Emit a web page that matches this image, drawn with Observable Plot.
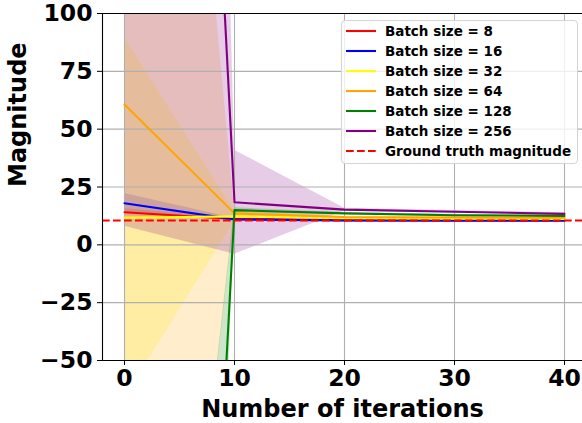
<!DOCTYPE html>
<html><head><meta charset="utf-8">
<script src="https://cdn.jsdelivr.net/npm/d3@7"></script>
<script src="https://cdn.jsdelivr.net/npm/@observablehq/plot@0.6"></script>
<style>
body{margin:0;background:#fff;}
#wrap{position:relative;width:582px;height:423px;overflow:hidden;}
#legend{position:absolute;left:341px;top:20px;width:237px;height:144px;box-sizing:border-box;background:rgba(255,255,255,0.8);border:1px solid #d4d4d4;border-radius:4px;font:bold 13.5px "DejaVu Sans",sans-serif;color:#000;}
.row{position:absolute;left:0;height:20px;width:100%;}
.row svg{position:absolute;left:3px;top:0;}
.row span{position:absolute;left:43px;top:0;line-height:20px;white-space:nowrap;}
</style></head><body><div id="wrap"></div>
<script>
// ---- data ----
const iterations = [0, 10, 20, 30, 40];
const seriesLabels = ["Batch size = 8", "Batch size = 16", "Batch size = 32", "Batch size = 64", "Batch size = 128", "Batch size = 256"];
const seriesColors = ["red", "blue", "yellow", "orange", "green", "purple"];
const mean8   = [14.1, 11.2, 10.7, 10.6, 10.6];
const std8    = [1.5, 0.4, 0.2, 0.2, 0.2];
const mean16  = [18.0, 11.0, 10.5, 10.4, 10.4];
const std16   = [4.2, 0.5, 0.2, 0.2, 0.2];
const mean32  = [11.7, 12.3, 11.5, 11.3, 11.2];
const std32   = [78, 2.3, 0.3, 0.3, 0.3];
const mean64  = [60.7, 13.6, 12.0, 11.8, 11.7];
const std64   = [470, 1.5, 0.3, 0.3, 0.3];
const mean128 = [-875, 15.0, 13.6, 12.8, 12.5];
const std128  = [465, 1.0, 0.4, 0.4, 0.4];
const mean256 = [940, 18.4, 15.2, 14.3, 13.4];
const std256  = [932, 22.5, 0.6, 0.5, 0.5];
const groundTruth = 10.5;
const groundTruthLabel = "Ground truth magnitude";
const xTicks = [0, 10, 20, 30, 40];
const yTicks = [-50, -25, 0, 25, 50, 75, 100];
const xDomain = [-2, 41.636];
const yDomain = [-50, 100];
const xLabel = "Number of iterations";
const yLabel = "Magnitude";

const means = [mean8, mean16, mean32, mean64, mean128, mean256];
const stds = [std8, std16, std32, std64, std128, std256];
const rows = [];
seriesLabels.forEach((s, i) => {
  iterations.forEach((x, j) => {
    rows.push({series: s, x, mean: means[i][j], lo: means[i][j] - stds[i][j], hi: means[i][j] + stds[i][j]});
  });
});

const font = "DejaVu Sans";
const chart = Plot.plot({
  width: 582, height: 423,
  marginLeft: 102, marginRight: 0, marginTop: 13, marginBottom: 63,
  style: {fontFamily: font, fontWeight: "bold", fontSize: "23.5px", background: "white", color: "black"},
  x: {domain: xDomain},
  y: {domain: yDomain},
  color: {domain: seriesLabels, range: seriesColors},
  marks: [
    Plot.areaY(rows, {x: "x", y1: "lo", y2: "hi", fill: "series", z: "series", fillOpacity: 0.2, clip: true}),
    Plot.gridX(xTicks, {stroke: "#b0b0b0", strokeOpacity: 1, strokeWidth: 1.1}),
    Plot.gridY(yTicks, {stroke: "#b0b0b0", strokeOpacity: 1, strokeWidth: 1.1}),
    Plot.line(rows, {x: "x", y: "mean", stroke: "series", z: "series", strokeWidth: 2.1, clip: true}),
    Plot.ruleY([groundTruth], {stroke: "red", strokeWidth: 2.1, strokeDasharray: "7.7,3.3"}),
    Plot.ruleX([xDomain[0]], {stroke: "black", strokeWidth: 1.1}),
    Plot.ruleY(yDomain, {stroke: "black", strokeWidth: 1.1}),
    Plot.axisX(xTicks, {tickSize: 5, tickPadding: 4, fontSize: 23.5, label: null, tickFormat: d => String(d)}),
    Plot.axisY(yTicks, {tickSize: 5, tickPadding: 5, fontSize: 23.5, label: null}),
    Plot.text([xLabel], {text: d => d, frameAnchor: "bottom", lineAnchor: "middle", dy: 49, fontSize: 24, fontWeight: "bold", fill: "black"}),
    Plot.text([yLabel], {text: d => d, frameAnchor: "left", lineAnchor: "middle", dx: -84, rotate: -90, fontSize: 24, fontWeight: "bold", fill: "black"})
  ]
});
const wrap = document.getElementById("wrap");
wrap.appendChild(chart);

// legend
const legend = document.createElement("div");
legend.id = "legend";
const items = seriesLabels.map((s, i) => ({label: s, color: seriesColors[i], dash: null}))
  .concat([{label: groundTruthLabel, color: "red", dash: "7.7,3.3"}]);
items.forEach((it, i) => {
  const row = document.createElement("div");
  row.className = "row";
  row.style.top = (20 * i) + "px";
  const svg = d3.create("svg").attr("width", 32).attr("height", 20);
  svg.append("line").attr("x1", 1).attr("x2", 31).attr("y1", 10).attr("y2", 10)
    .attr("stroke", it.color).attr("stroke-width", 2.1).attr("stroke-dasharray", it.dash);
  row.appendChild(svg.node());
  const span = document.createElement("span");
  span.textContent = it.label;
  row.appendChild(span);
  legend.appendChild(row);
});
wrap.appendChild(legend);
</script>
</body></html>
